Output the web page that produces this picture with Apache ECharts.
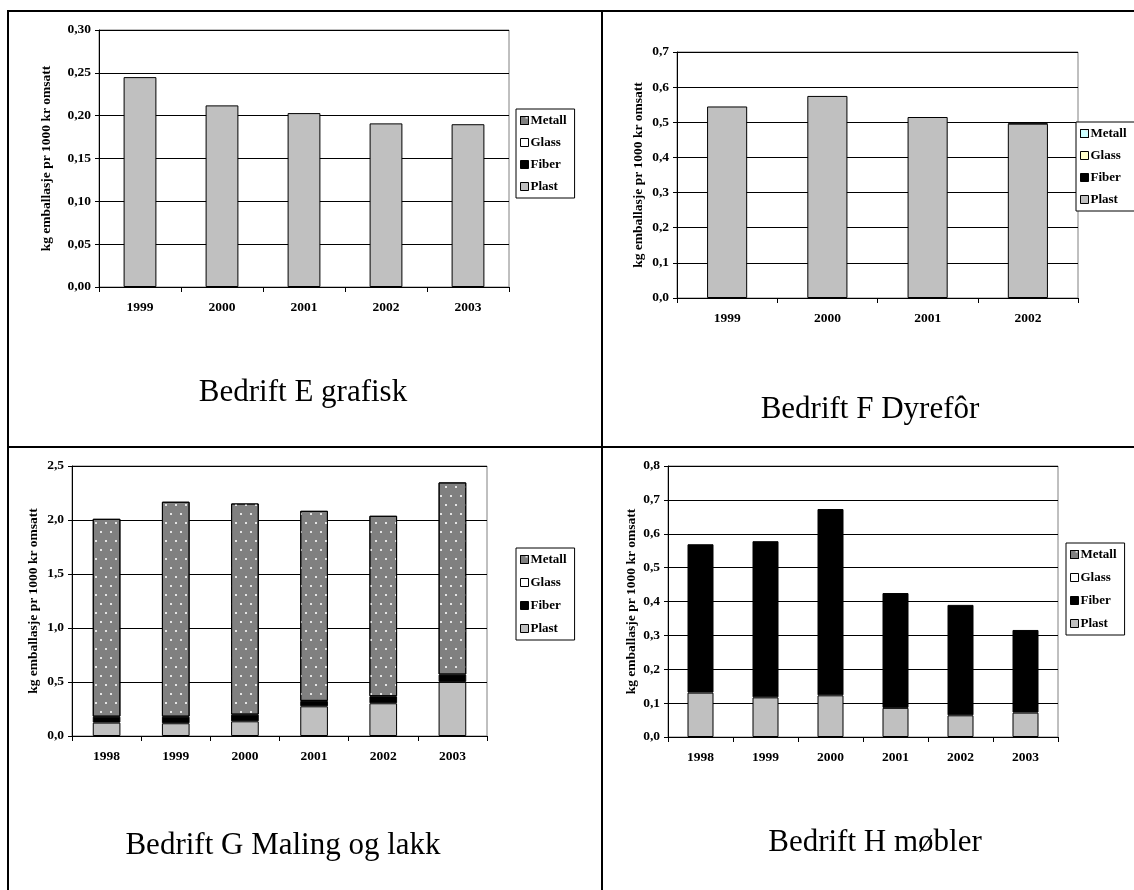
<!DOCTYPE html>
<html>
<head>
<meta charset="utf-8">
<script src="https://cdn.jsdelivr.net/npm/echarts@6/dist/echarts.min.js"></script>
<style>
html,body{margin:0;padding:0;background:#fff;}
#c{width:1134px;height:890px;}
</style>
</head>
<body>
<div id="c"></div>
<script>
// ---- data ----
const seriesNames = ['Plast', 'Fiber', 'Glass', 'Metall'];
const legendOrder = ['Metall', 'Glass', 'Fiber', 'Plast'];
const yAxisTitle = 'kg emballasje pr 1000 kr omsatt';

const titleE = 'Bedrift E grafisk';
const yearsE = ['1999', '2000', '2001', '2002', '2003'];
const plastE = [0.245, 0.212, 0.203, 0.191, 0.190];
const fiberE = [0, 0, 0, 0, 0];
const glassE = [0, 0, 0, 0, 0];
const metallE = [0, 0, 0, 0, 0];
const ticksE = ['0,00', '0,05', '0,10', '0,15', '0,20', '0,25', '0,30'];

const titleF = 'Bedrift F Dyrefôr';
const yearsF = ['1999', '2000', '2001', '2002'];
const plastF = [0.545, 0.575, 0.515, 0.496];
const fiberF = [0, 0, 0, 0.003];
const glassF = [0, 0, 0, 0];
const metallF = [0, 0, 0, 0];
const ticksF = ['0,0', '0,1', '0,2', '0,3', '0,4', '0,5', '0,6', '0,7'];

const titleG = 'Bedrift G Maling og lakk';
const yearsG = ['1998', '1999', '2000', '2001', '2002', '2003'];
const plastG = [0.124, 0.118, 0.136, 0.275, 0.303, 0.501];
const fiberG = [0.055, 0.061, 0.062, 0.050, 0.065, 0.068];
const glassG = [0, 0, 0, 0, 0, 0];
const metallG = [1.832, 1.990, 1.955, 1.760, 1.671, 1.779];
const ticksG = ['0,0', '0,5', '1,0', '1,5', '2,0', '2,5'];

const titleH = 'Bedrift H møbler';
const yearsH = ['1998', '1999', '2000', '2001', '2002', '2003'];
const plastH = [0.131, 0.117, 0.123, 0.086, 0.064, 0.072];
const fiberH = [0.438, 0.461, 0.550, 0.339, 0.326, 0.244];
const glassH = [0, 0, 0, 0, 0, 0];
const metallH = [0, 0, 0, 0, 0, 0];
const ticksH = ['0,0', '0,1', '0,2', '0,3', '0,4', '0,5', '0,6', '0,7', '0,8'];

// ---- styles ----
const FONT = 'Liberation Serif';
const dotDecal = {
  symbol: 'rect', symbolSize: 1, color: '#e4e4e4',
  dashArrayX: [[2, 8], [0, 5, 2, 3]], dashArrayY: [1.5, 6.5]
};
const paletteStd = {
  Plast: {color: '#c0c0c0'}, Fiber: {color: '#000000'},
  Glass: {color: '#ffffff'}, Metall: {color: '#808080', decal: dotDecal}
};
const paletteF = {
  Plast: {color: '#c0c0c0'}, Fiber: {color: '#000000'},
  Glass: {color: '#ffffcc'}, Metall: {color: '#ccffff'}
};

const panels = [
  {years: yearsE, vals: {Plast: plastE, Fiber: fiberE, Glass: glassE, Metall: metallE}, ticks: ticksE,
   max: 0.30, step: 0.05, grid: {left: 99, top: 30, width: 410, height: 257},
   legend: {left: 516, top: 109, gap: 9}, pal: paletteStd, nameGap: 45,
   title: titleE, tx: 303, ty: 377},
  {years: yearsF, vals: {Plast: plastF, Fiber: fiberF, Glass: glassF, Metall: metallF}, ticks: ticksF,
   max: 0.7, step: 0.1, grid: {left: 677, top: 52, width: 401, height: 246},
   legend: {left: 1076, top: 122, gap: 9}, pal: paletteF, nameGap: 31,
   title: titleF, tx: 870, ty: 394},
  {years: yearsG, vals: {Plast: plastG, Fiber: fiberG, Glass: glassG, Metall: metallG}, ticks: ticksG,
   max: 2.5, step: 0.5, grid: {left: 72, top: 466, width: 415, height: 270},
   legend: {left: 516, top: 548, gap: 10}, pal: paletteStd, nameGap: 31,
   title: titleG, tx: 283, ty: 830},
  {years: yearsH, vals: {Plast: plastH, Fiber: fiberH, Glass: glassH, Metall: metallH}, ticks: ticksH,
   max: 0.8, step: 0.1, grid: {left: 668, top: 466, width: 390, height: 271},
   legend: {left: 1066, top: 543, gap: 10}, pal: paletteStd, nameGap: 29,
   title: titleH, tx: 875, ty: 827}
];

const option = {
  animation: false,
  backgroundColor: '#fff',
  textStyle: {fontFamily: FONT},
  title: [], grid: [], xAxis: [], yAxis: [], legend: [], series: [],
  graphic: [
    {type: 'line', shape: {x1: 8, y1: 11, x2: 1134, y2: 11}, style: {stroke: '#000', lineWidth: 2}},
    {type: 'line', shape: {x1: 8, y1: 10, x2: 8, y2: 890}, style: {stroke: '#000', lineWidth: 2}},
    {type: 'line', shape: {x1: 602, y1: 10, x2: 602, y2: 890}, style: {stroke: '#000', lineWidth: 2}},
    {type: 'line', shape: {x1: 8, y1: 447, x2: 1134, y2: 447}, style: {stroke: '#000', lineWidth: 2}}
  ]
};

panels.forEach((p, i) => {
  option.title.push({
    text: p.title, left: p.tx, top: p.ty, textAlign: 'center', padding: 0,
    textStyle: {fontFamily: FONT, fontSize: 31, fontWeight: 'normal', color: '#000'}
  });
  option.grid.push(Object.assign({show: true, borderColor: '#808080', borderWidth: 1, backgroundColor: '#fff'}, p.grid));
  option.xAxis.push({
    type: 'category', gridIndex: i, data: p.years,
    axisLine: {lineStyle: {color: '#000', width: 1}},
    axisTick: {show: true, length: 5, lineStyle: {color: '#000'}},
    axisLabel: {fontFamily: FONT, fontWeight: 'bold', fontSize: 13.5, color: '#000', margin: 14}
  });
  option.yAxis.push({
    type: 'value', gridIndex: i, min: 0, max: p.max, interval: p.step,
    name: yAxisTitle, nameLocation: 'middle', nameGap: p.nameGap,
    nameTextStyle: {fontFamily: FONT, fontWeight: 'bold', fontSize: 13.5, color: '#000'},
    axisLine: {show: true, lineStyle: {color: '#000', width: 1}},
    axisTick: {show: true, length: 4, lineStyle: {color: '#000'}},
    axisLabel: {fontFamily: FONT, fontWeight: 'bold', fontSize: 13.5, color: '#000', margin: 8,
      formatter: v => p.ticks[Math.round(v / p.step)]},
    splitLine: {show: true, lineStyle: {color: '#000', width: 1}}
  });
  option.legend.push({
    orient: 'vertical', left: p.legend.left, top: p.legend.top,
    data: legendOrder.map(n => ({name: n, itemStyle: Object.assign({borderColor: '#000', borderWidth: 1}, p.pal[n])})),
    icon: 'rect', itemWidth: 8, itemHeight: 8, itemGap: p.legend.gap,
    padding: [5, 8, 5, 4], borderColor: '#000', borderWidth: 1, backgroundColor: '#fff',
    selectedMode: false,
    textStyle: {fontFamily: FONT, fontWeight: 'bold', fontSize: 13, color: '#000', padding: [0, 0, 0, -3]}
  });
  seriesNames.forEach(n => {
    option.series.push({
      type: 'bar', name: n, xAxisIndex: i, yAxisIndex: i, stack: 'st' + i,
      barWidth: '40%',
      data: p.vals[n].map(v => (v > 0 ? v : null)),
      itemStyle: Object.assign({borderColor: '#000', borderWidth: 1}, p.pal[n])
    });
  });
});

const chart = echarts.init(document.getElementById('c'));
chart.setOption(option);
</script>
</body>
</html>
